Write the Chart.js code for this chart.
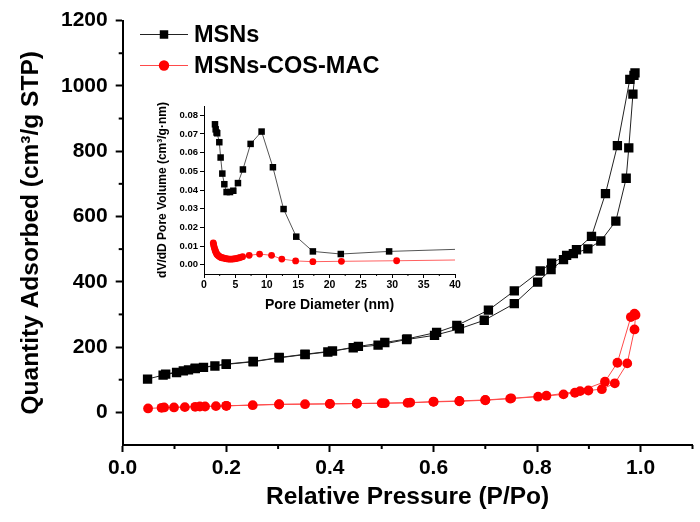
<!DOCTYPE html>
<html>
<head>
<meta charset="utf-8">
<script src="https://cdn.jsdelivr.net/npm/chart.js@4.4.1/dist/chart.umd.min.js"></script>
<style>
  html, body { margin: 0; padding: 0; background: #fff; }
  #wrap { position: relative; width: 700px; height: 522px; }
  #main { position: absolute; left: 0; top: 0; }
  #inset { position: absolute; left: 140px; top: 95px; }
</style>
</head>
<body>
<div id="wrap">
  <canvas id="main" width="700" height="522"></canvas>
  <canvas id="inset" width="330" height="225"></canvas>
</div>
<script>
// ---------- Main isotherm data (adsorption then desorption) ----------
const msnP = [0.048,0.078,0.104,0.117,0.127,0.140,0.156,0.178,0.200,0.252,0.302,0.352,0.396,0.445,0.493,0.548,0.602,0.650,0.698,0.756,0.801,0.827,0.851,0.870,0.898,0.923,0.952,0.972,0.977,0.985,0.989,
              0.987,0.979,0.955,0.932,0.905,0.876,0.857,0.828,0.806,0.756,0.706,0.645,0.606,0.549,0.506,0.455,0.405,0.352,0.302,0.252,0.200,0.140,0.083];
const msnQ = [102,114,122,127,130,134,138,142,147,155,167,177,185,198,206,223,236,256,282,333,399,437,468,486,501,525,586,717,810,975,1040,
              1032,1020,817,670,539,498,481,457,433,372,313,266,245,225,214,202,188,178,168,156,148,135,117];

const cosP = [0.049,0.075,0.099,0.120,0.140,0.159,0.180,0.200,0.251,0.302,0.352,0.400,0.452,0.500,0.550,0.600,0.650,0.700,0.748,0.802,0.851,0.873,0.899,0.925,0.950,0.974,0.988,0.990,
              0.988,0.981,0.955,0.931,0.883,0.818,0.750,0.700,0.650,0.600,0.555,0.506,0.452,0.400,0.302,0.200,0.149,0.080];
const cosQ = [12,14,15,16,17,18,19,20,22,24,25,26,27,28,29,32,34,37,42,48,55,60,67,71,89,150,254,298,
              302,292,152,94,65,51,43,38,35,33,30,28,27,26,25,20,18,15];

// ---------- Inset pore size distribution ----------
const poreMsn = [1.75,1.86,2.0,2.1,2.44,2.65,2.92,3.24,3.6,4.14,4.67,5.41,6.2,7.43,9.18,10.98,12.68,14.7,17.35,21.8,29.5,40];
const dvMsn   = [0.0752,0.0725,0.0708,0.0704,0.0656,0.0574,0.0488,0.0431,0.0389,0.0389,0.0396,0.0437,0.051,0.0647,0.0713,0.0522,0.0298,0.015,0.0071,0.0057,0.0071,0.0082];
const poreCos = [1.48,1.53,1.59,1.66,1.75,1.83,1.91,2.0,2.12,2.25,2.4,2.55,2.7,2.88,3.08,3.3,3.5,3.75,3.98,4.22,4.46,4.72,4.99,5.25,5.5,5.8,6.15,7.2,8.86,10.77,12.4,14.6,17.35,21.9,30.7,40];
const dvCos   = [0.0116,0.0108,0.0098,0.0089,0.008,0.0072,0.0066,0.0059,0.0053,0.0049,0.0045,0.0042,0.0039,0.0037,0.0036,0.0034,0.0032,0.0031,0.003,0.003,0.003,0.0031,0.0032,0.0034,0.0036,0.0039,0.0043,0.005,0.0057,0.005,0.003,0.002,0.0016,0.0018,0.0021,0.0025];

// ---------- Tick definitions ----------
const mainXTicks = [0, 0.2, 0.4, 0.6, 0.8, 1.0];
const mainXMinor = [0.1, 0.3, 0.5, 0.7, 0.9, 1.1];
const mainYTicks = [0, 200, 400, 600, 800, 1000, 1200];
const mainYMinor = [100, 300, 500, 700, 900, 1100];
const insetXTicks = [0, 5, 10, 15, 20, 25, 30, 35, 40];
const insetXMinor = [2.5, 7.5, 12.5, 17.5, 22.5, 27.5, 32.5, 37.5];
const insetYTicks = [0, 0.01, 0.02, 0.03, 0.04, 0.05, 0.06, 0.07, 0.08];

const FONT = "'Liberation Sans', Arial, sans-serif";
const toXY = (xs, ys) => xs.map((x, i) => ({x, y: ys[i]}));
const setTicks = arr => scale => { scale.ticks = arr.map(v => ({value: v})); };

// plugin: minor ticks drawn at values through the scale
const minorTickPlugin = {
  id: 'minorTicks',
  afterDraw(chart, args, opts) {
    const ctx = chart.ctx;
    ctx.save();
    ctx.strokeStyle = '#000';
    ctx.lineWidth = opts.width;
    const xs = chart.scales.x, ys = chart.scales.y;
    (opts.x || []).forEach(v => {
      const px = xs.getPixelForValue(v);
      ctx.beginPath(); ctx.moveTo(px, xs.top); ctx.lineTo(px, xs.top + opts.len); ctx.stroke();
    });
    (opts.y || []).forEach(v => {
      const py = ys.getPixelForValue(v);
      ctx.beginPath(); ctx.moveTo(ys.right, py); ctx.lineTo(ys.right - opts.len, py); ctx.stroke();
    });
    ctx.restore();
  }
};

// plugin: legend (line + marker + text) inside plot
const lineLegendPlugin = {
  id: 'lineLegend',
  afterDraw(chart, args, opts) {
    const ctx = chart.ctx;
    ctx.save();
    chart.data.datasets.forEach((ds, i) => {
      const y = opts.y + i * opts.gap;
      ctx.strokeStyle = ds.borderColor;
      ctx.lineWidth = 1;
      ctx.beginPath(); ctx.moveTo(opts.x, y); ctx.lineTo(opts.x + opts.len, y); ctx.stroke();
      ctx.fillStyle = ds.pointBackgroundColor;
      Chart.helpers.drawPoint(ctx, {pointStyle: ds.pointStyle, radius: ds.legendRadius, rotation: 0, borderWidth: 0}, opts.x + opts.len / 2, y);
      ctx.fillStyle = '#000';
      ctx.font = opts.font;
      ctx.textBaseline = 'middle';
      ctx.textAlign = 'left';
      ctx.fillText(ds.label, opts.x + opts.len + 6, y + 1);
    });
    ctx.restore();
  }
};

new Chart(document.getElementById('main'), {
  type: 'scatter',
  data: {
    datasets: [
      { label: 'MSNs', data: toXY(msnP, msnQ), showLine: true,
        borderColor: '#222', borderWidth: 1, pointStyle: 'rect', pointRadius: 6.6,
        pointBackgroundColor: '#000', pointBorderColor: '#000', pointBorderWidth: 0, legendRadius: 6 },
      { label: 'MSNs-COS-MAC', data: toXY(cosP, cosQ), showLine: true,
        borderColor: '#ff4a4a', borderWidth: 1, pointStyle: 'circle', pointRadius: 4.9,
        pointBackgroundColor: '#ff0000', pointBorderColor: '#ff0000', pointBorderWidth: 0, legendRadius: 5.2 }
    ]
  },
  options: {
    responsive: false, animation: false,
    layout: { padding: { left: 0, top: 20, right: 7.5, bottom: 0 } },
    plugins: {
      legend: { display: false }, tooltip: { enabled: false },
      minorTicks: { x: mainXMinor, y: mainYMinor, len: 4, width: 2 },
      lineLegend: { x: 140, y: 34.5, gap: 31, len: 48, font: "bold 23.5px " + FONT }
    },
    scales: {
      x: {
        type: 'linear', min: 0, max: 1.1,
        afterBuildTicks: setTicks(mainXTicks),
        afterFit: s => { s.height = 77; },
        border: { display: true, color: '#000', width: 2 },
        grid: { drawOnChartArea: false, drawTicks: true, tickLength: 7, tickWidth: 2, tickColor: '#000' },
        ticks: { color: '#000', padding: 4, maxRotation: 0, autoSkip: false,
                 font: { family: FONT, size: 21, weight: 'bold' },
                 callback: v => v.toFixed(1) },
        title: { display: true, text: 'Relative Pressure (P/Po)', color: '#000',
                 font: { family: FONT, size: 24.5, weight: 'bold' }, padding: { top: 0, bottom: 10 } }
      },
      y: {
        type: 'linear', min: -100, max: 1200,
        afterBuildTicks: setTicks(mainYTicks),
        afterFit: s => { s.width = 122.7; },
        border: { display: true, color: '#000', width: 2 },
        grid: { drawOnChartArea: false, drawTicks: true, tickLength: 7, tickWidth: 2, tickColor: '#000' },
        ticks: { color: '#000', padding: 8, autoSkip: false,
                 font: { family: FONT, size: 21, weight: 'bold' },
                 callback: v => String(v) },
        title: { display: true, text: 'Quantity Adsorbed (cm³/g STP)', color: '#000',
                 font: { family: FONT, size: 24.5, weight: 'bold' }, padding: { top: 17, bottom: 0 } }
      }
    }
  },
  plugins: [minorTickPlugin, lineLegendPlugin]
});

new Chart(document.getElementById('inset'), {
  type: 'scatter',
  data: {
    datasets: [
      { label: 'MSNs', data: toXY(poreMsn, dvMsn), showLine: true,
        borderColor: '#555', borderWidth: 1, pointStyle: 'rect',
        pointRadius: poreMsn.map((v, i) => i === poreMsn.length - 1 ? 0 : 4.6),
        pointBackgroundColor: '#000', pointBorderColor: '#000', pointBorderWidth: 0 },
      { label: 'MSNs-COS-MAC', data: toXY(poreCos, dvCos), showLine: true,
        borderColor: '#ff6060', borderWidth: 1, pointStyle: 'circle',
        pointRadius: poreCos.map((v, i) => i === poreCos.length - 1 ? 0 : 3.4),
        pointBackgroundColor: '#ff0000', pointBorderColor: '#ff0000', pointBorderWidth: 0 }
    ]
  },
  options: {
    responsive: false, animation: false,
    layout: { padding: { left: 0, top: 11, right: 15, bottom: 0 } },
    plugins: {
      legend: { display: false }, tooltip: { enabled: false },
      minorTicks: { x: insetXMinor, y: [], len: 2, width: 1 }
    },
    scales: {
      x: {
        type: 'linear', min: 0, max: 40,
        afterBuildTicks: setTicks(insetXTicks),
        afterFit: s => { s.height = 46; },
        border: { display: true, color: '#000', width: 1 },
        grid: { drawOnChartArea: false, drawTicks: true, tickLength: 4, tickWidth: 1, tickColor: '#000' },
        ticks: { color: '#000', padding: 1, maxRotation: 0, autoSkip: false,
                 font: { family: FONT, size: 10.5, weight: 'bold' },
                 callback: v => String(v) },
        title: { display: true, text: 'Pore Diameter (nm)', color: '#000',
                 font: { family: FONT, size: 14, weight: 'bold' }, padding: { top: 0, bottom: 6 } }
      },
      y: {
        type: 'linear', min: -0.005, max: 0.085,
        afterBuildTicks: setTicks(insetYTicks),
        afterFit: s => { s.width = 64; },
        border: { display: true, color: '#000', width: 1 },
        grid: { drawOnChartArea: false, drawTicks: true, tickLength: 4, tickWidth: 1, tickColor: '#000' },
        ticks: { color: '#000', padding: 2, autoSkip: false,
                 font: { family: FONT, size: 9.5, weight: 'bold' },
                 callback: v => v.toFixed(2) },
        title: { display: true, text: 'dV/dD Pore Volume (cm³/g·nm)', color: '#000',
                 font: { family: FONT, size: 12, weight: 'bold' }, padding: { top: 15, bottom: 0 } }
      }
    }
  },
  plugins: [minorTickPlugin]
});
</script>
</body>
</html>
